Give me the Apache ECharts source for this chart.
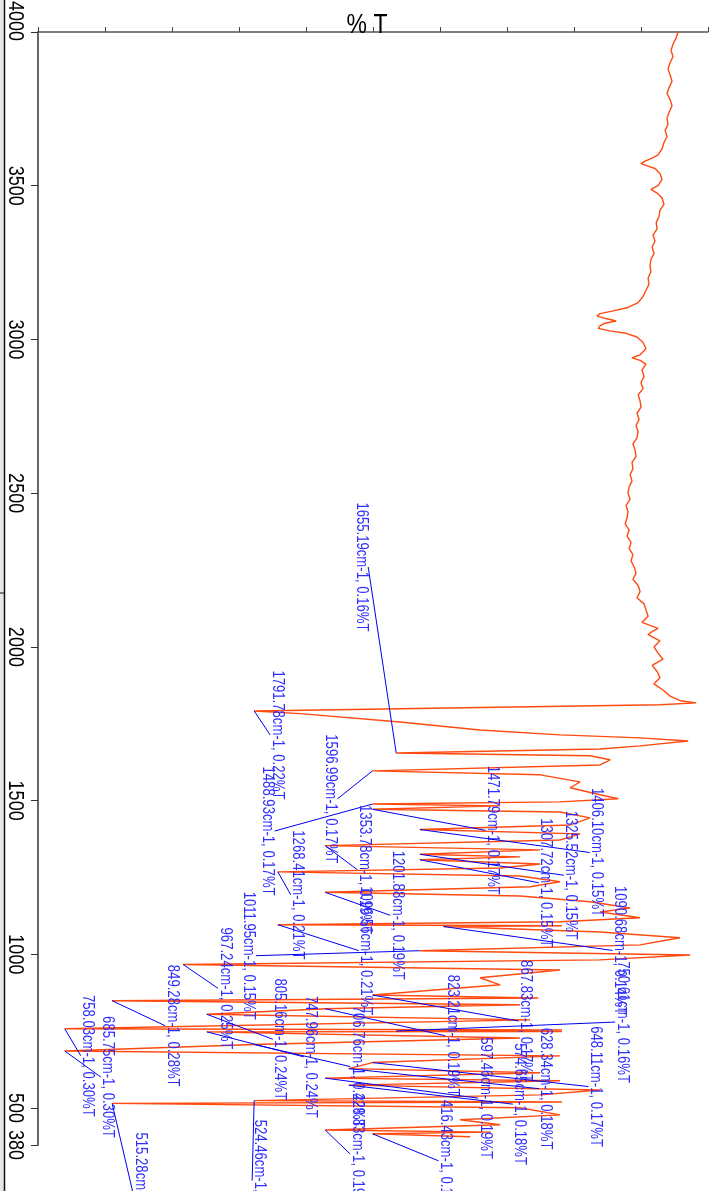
<!DOCTYPE html>
<html>
<head>
<meta charset="utf-8">
<script src="https://cdn.jsdelivr.net/npm/echarts@6/dist/echarts.min.js"></script>
<style>
  html, body { margin: 0; padding: 0; background: #fff; }
  #chart { width: 709px; height: 1191px; }
</style>
</head>
<body>
<div id="chart"></div>
<script>
// IR spectrum: wavenumber (cm-1) and transmittance readings
const wavenumbers = [
  4000, 3980, 3960, 3940, 3920, 3900, 3880, 3860, 3840, 3820, 3800, 3780, 3760, 3740, 3720, 3700,
  3680, 3660, 3640, 3620, 3600, 3590, 3580, 3572, 3564, 3556, 3540, 3520, 3500, 3488, 3476, 3460,
  3440, 3420, 3400, 3380, 3360, 3340, 3320, 3300, 3280, 3260, 3240, 3220, 3200, 3180, 3160, 3140,
  3120, 3104, 3092, 3084, 3076, 3068, 3060, 3052, 3044, 3036, 3028, 3020, 3008, 2990, 2970, 2950,
  2940, 2932, 2920, 2900, 2880, 2860, 2840, 2820, 2800, 2780, 2760, 2740, 2720, 2700, 2680, 2660,
  2640, 2620, 2600, 2580, 2560, 2540, 2520, 2500, 2480, 2460, 2440, 2420, 2400, 2380, 2360, 2340,
  2320, 2300, 2280, 2260, 2240, 2220, 2200, 2180, 2160, 2140, 2120, 2100, 2080, 2060, 2050, 2040,
  2020, 2000, 1980, 1960, 1940, 1920, 1900, 1880, 1860, 1840, 1825, 1818, 1812,
  1791.78, 1783, 1756, 1730, 1714, 1704, 1694, 1678, 1668, 1655.19, 1646, 1633, 1616, 1596.99,
  1584, 1561, 1542, 1519, 1506, 1496, 1488.93, 1483, 1471.79, 1463, 1444, 1421, 1406.10, 1392,
  1372, 1353.78, 1340, 1325.52, 1317, 1307.72, 1294, 1281, 1268.41, 1255, 1236, 1220, 1201.88,
  1190, 1171, 1151, 1138, 1119, 1106, 1096.56, 1093, 1090.68, 1073, 1054, 1031, 1011.95, 998, 982,
  967.24, 949, 924, 901, 867.83, 858, 849.28, 836, 823.21, 805.16, 787, 758.03, 754, 750.61, 749,
  747.96, 728, 706.76, 685.75, 670, 648.11, 628.34, 615, 597.46, 589, 574.65, 559, 543, 524.46,
  520, 515.28, 501, 478, 462, 446, 428.83, 422, 416.43, 407
];
const transmittance = [
  0.0409, 0.0418, 0.0431, 0.0439, 0.0431, 0.0443, 0.0452, 0.0443, 0.0435, 0.0447, 0.0456, 0.0443,
  0.0435, 0.0447, 0.0456, 0.0452, 0.0464, 0.0456, 0.0469, 0.0477, 0.0494, 0.0519, 0.0549, 0.0566,
  0.0536, 0.0507, 0.0486, 0.0477, 0.0494, 0.0524, 0.0498, 0.0477, 0.0469, 0.0486, 0.0490, 0.0502,
  0.0498, 0.0515, 0.0507, 0.0519, 0.0511, 0.0524, 0.0528, 0.0524, 0.0536, 0.0532, 0.0545, 0.0557,
  0.0578, 0.0621, 0.0688, 0.0739, 0.0752, 0.0714, 0.0671, 0.0722, 0.0739, 0.0747, 0.0697, 0.0629,
  0.0583, 0.0557, 0.0545, 0.0570, 0.0604, 0.0570, 0.0545,
  0.0562, 0.0553, 0.0566, 0.0557, 0.0578, 0.0570, 0.0566, 0.0583, 0.0574, 0.0587, 0.0578, 0.0583,
  0.0600, 0.0591, 0.0587, 0.0604, 0.0600, 0.0612, 0.0604, 0.0616, 0.0621, 0.0612, 0.0629, 0.0621,
  0.0625, 0.0633, 0.0616, 0.0625, 0.0608, 0.0616, 0.0600, 0.0608, 0.0595, 0.0587, 0.0600, 0.0578,
  0.0570, 0.0583, 0.0553, 0.0545,
  0.0536, 0.0562, 0.0494, 0.0519, 0.0536, 0.0486, 0.0511, 0.0494, 0.0473, 0.0519, 0.0498, 0.0486,
  0.0511, 0.0473, 0.0443, 0.0401, 0.0333, 0.0486,
  0.22, 0.2006, 0.1584, 0.1246, 0.0908, 0.0570, 0.0367, 0.0570, 0.0739, 0.16, 0.0781, 0.0696,
  0.0739, 0.17, 0.0992, 0.0823, 0.0865, 0.0739, 0.0662, 0.0908, 0.17, 0.1161, 0.17, 0.0908,
  0.0781, 0.0865, 0.15, 0.0823, 0.0908, 0.19, 0.0992, 0.15, 0.1077, 0.15, 0.0992, 0.1161, 0.21,
  0.1077, 0.0908, 0.1034, 0.19, 0.1077, 0.0781, 0.0612, 0.0739, 0.0570, 0.0908, 0.21, 0.0900,
  0.14, 0.0739, 0.0401, 0.0570, 0.15, 0.0358, 0.0739, 0.25, 0.0908, 0.1246, 0.1161, 0.17, 0.1000,
  0.28, 0.1077, 0.19, 0.24, 0.1034, 0.30, 0.0900, 0.16, 0.0900, 0.24, 0.1077, 0.22, 0.30, 0.0908,
  0.17, 0.18, 0.0992, 0.19, 0.0908, 0.18, 0.0739, 0.0992, 0.22, 0.0900, 0.28, 0.1077, 0.0908,
  0.1330, 0.1161, 0.19, 0.1200, 0.17, 0.1288
];

// Picked peaks and their annotation values
const peakWavenumbers = [
  1791.78, 1655.19, 1596.99, 1488.93, 1471.79, 1406.10, 1353.78, 1325.52, 1307.72, 1268.41,
  1201.88, 1096.56, 1090.68, 1011.95, 967.24, 867.83, 849.28, 823.21, 805.16, 758.03, 750.61,
  747.96, 706.76, 685.75, 648.11, 628.34, 597.46, 574.65, 524.46, 515.28, 428.83, 416.43
];
const peakTransmittance = [
  0.22, 0.16, 0.17, 0.17, 0.17, 0.15, 0.19, 0.15, 0.15, 0.21,
  0.19, 0.21, 0.14, 0.15, 0.25, 0.17, 0.28, 0.19, 0.24, 0.30, 0.16,
  0.24, 0.22, 0.30, 0.17, 0.18, 0.19, 0.18, 0.22, 0.28, 0.19, 0.17
];

// Wavenumber axis tick labels
const wavenumberTicks = [4000, 3500, 3000, 2500, 2000, 1500, 1000, 500, 380];

// Where each annotation text sits relative to its peak (pixels)
const calloutShift = [
  [23, 24], [-35, -186], [-42, 28], [-105, 27], [120, 21], [177, 23], [39, 24], [151, 21],
  [126, 23], [20, 23], [72, 23], [88, 26], [176, 24], [-171, 5], [42, 24], [153, 26],
  [60, 25], [127, 27], [73, 25], [23, 27], [226, -9], [104, 25], [103, 22], [43, 26],
  [223, 24], [197, 20], [160, 20], [171, 19], [5, 80], [28, 90], [32, 24], [73, 27]
];

const SPECTRUM = '#ff4a10';
const NOTE_TEXT = '#2e2eff';
const NOTE_LINE = '#0000f0';
const FONT = "'Liberation Sans', Arial, sans-serif";
const CONDENSE = 0.82;   // horizontal squeeze of the glyphs
const T_MIN = 0.0283;
const T_MAX = 0.3113;

const spectrum = wavenumbers.map((w, i) => [transmittance[i], w]);
const peaks = peakWavenumbers.map((w, i) => [peakTransmittance[i], w, i]);
const tickLabelData = wavenumberTicks.map((w, i) => [T_MAX, w, i]);

const chart = echarts.init(document.getElementById('chart'), null, { renderer: 'canvas' });

chart.setOption({
  animation: false,
  backgroundColor: '#fff',
  grid: { left: 38, top: 32, width: 670, height: 1113, containLabel: false },
  xAxis: {
    type: 'value',
    position: 'top',
    inverse: true,
    min: T_MIN,
    max: T_MAX,
    interval: T_MIN,
    axisLine: { show: true, lineStyle: { color: '#555', width: 1.5 } },
    axisTick: { show: true, inside: false, length: 5, lineStyle: { color: '#444' } },
    axisLabel: { show: false },
    splitLine: { show: false }
  },
  yAxis: {
    type: 'value',
    min: 380,
    max: 4000,
    axisLine: { show: true, lineStyle: { color: '#333', width: 1.5 } },
    axisTick: { show: true, length: 7, customValues: wavenumberTicks, lineStyle: { color: '#333' } },
    axisLabel: { show: false },
    splitLine: { show: false }
  },
  graphic: [
    { type: 'rect', left: 0, top: 0, shape: { width: 4, height: 1191 }, style: { fill: '#e6e6e6' }, silent: true },
    { type: 'line', shape: { x1: 4.5, y1: 0, x2: 4.5, y2: 1191 }, style: { stroke: '#111', lineWidth: 1.5 }, silent: true },
    { type: 'line', shape: { x1: 0, y1: 593, x2: 4, y2: 593 }, style: { stroke: '#111', lineWidth: 1 }, silent: true },
    {
      type: 'text', x: 367, y: 25, scaleX: CONDENSE, z: 10,
      style: { text: '% T', fill: '#000', fontSize: 28, fontFamily: FONT, align: 'center', verticalAlign: 'middle' }
    }
  ],
  series: [
    {
      type: 'line',
      data: spectrum,
      showSymbol: false,
      symbol: 'none',
      lineStyle: { color: SPECTRUM, width: 1.4 },
      z: 2
    },
    {
      // wavenumber tick labels, placed with the y axis scale
      type: 'custom',
      data: tickLabelData,
      clip: false,
      z: 4,
      renderItem(params, api) {
        const p = api.coord([api.value(0), api.value(1)]);
        const top = api.value(2) === 0;
        return {
          type: 'text',
          x: p[0] - 23,
          y: p[1] - (top ? 11 : 0),
          rotation: -Math.PI / 2,
          scaleX: CONDENSE,
          style: {
            text: String(api.value(1)),
            fill: '#000',
            fontSize: 22,
            fontFamily: FONT,
            align: 'center',
            verticalAlign: 'middle'
          }
        };
      }
    },
    {
      type: 'custom',
      data: peaks,
      clip: false,
      z: 3,
      renderItem(params, api) {
        const i = api.value(2);
        const p = api.coord([api.value(0), api.value(1)]);
        const shift = calloutShift[i];
        const cx = p[0] + shift[0];
        const cy = p[1] + shift[1];
        const ex = cx + (shift[0] < 0 ? 7 : -7);
        const text = peakWavenumbers[i].toFixed(2) + 'cm-1, ' + peakTransmittance[i].toFixed(2) + '%T';
        return {
          type: 'group',
          children: [
            {
              type: 'line',
              shape: { x1: p[0], y1: p[1], x2: ex, y2: cy },
              style: { stroke: NOTE_LINE, lineWidth: 1 }
            },
            {
              type: 'text',
              x: cx,
              y: cy,
              rotation: -Math.PI / 2,
              scaleX: CONDENSE,
              style: {
                text: text,
                fill: NOTE_TEXT,
                fontSize: 16,
                fontFamily: FONT,
                align: 'center',
                verticalAlign: 'middle'
              }
            }
          ]
        };
      }
    }
  ]
});
</script>
</body>
</html>
